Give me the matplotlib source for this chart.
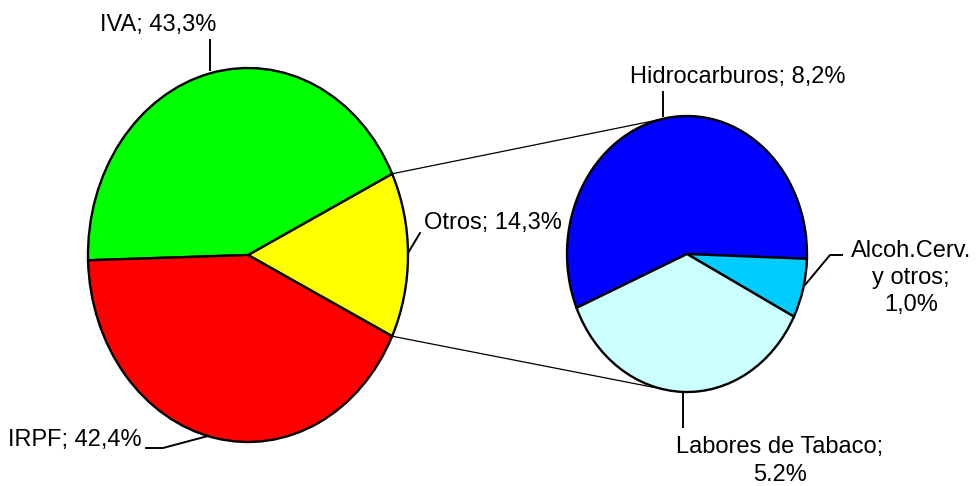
import matplotlib
matplotlib.use("Agg")
import matplotlib.pyplot as plt
from matplotlib import font_manager
import numpy as np

# Main breakdown of tax revenue
main_labels = ["Otros", "IVA", "IRPF"]
main_values = [14.3, 43.3, 42.4]
main_colors = ["#FFFF00", "#00FF00", "#FF0000"]

# Breakdown of "Otros"
sub_labels = ["Hidrocarburos", "Alcoh.Cerv. y otros", "Labores de Tabaco"]
sub_values = [8.2, 1.0, 5.2]
sub_colors = ["#0000FF", "#00CCFF", "#CCFFFF"]

available = {f.name for f in font_manager.fontManager.ttflist}
family = "Liberation Sans" if "Liberation Sans" in available else "DejaVu Sans"
plt.rcParams["font.family"] = [family, "DejaVu Sans"]
FS = 17

W, H = 977, 486
fig = plt.figure(figsize=(W / 100, H / 100), dpi=100)
fig.patch.set_facecolor("white")


def pie_axes(cx, cy, rx, ry):
    # axes whose data range (-1, 1) spans the ellipse bounding box (pixel coords)
    return fig.add_axes([(cx - rx) / W, (H - cy - ry) / H, 2 * rx / W, 2 * ry / H])


# Left pie
LCX, LCY, LRX, LRY = 248, 255, 160, 187
axL = pie_axes(LCX, LCY, LRX, LRY)
otros_angle = main_values[0] / sum(main_values) * 360
axL.pie(main_values, colors=main_colors, startangle=-otros_angle / 2,
        counterclock=True,
        wedgeprops=dict(edgecolor="black", linewidth=1.7))
axL.set_aspect("auto")
axL.set_xlim(-1, 1)
axL.set_ylim(-1, 1)
axL.axis("off")

# Right pie
RCX, RCY, RRX, RRY = 687, 254, 120, 138
axR = pie_axes(RCX, RCY, RRX, RRY)
axR.pie(sub_values, colors=sub_colors, startangle=203, counterclock=False,
        wedgeprops=dict(edgecolor="black", linewidth=1.7))
axR.set_aspect("auto")
axR.set_xlim(-1, 1)
axR.set_ylim(-1, 1)
axR.axis("off")

# Overlay in pixel coordinates for connectors and labels
ov = fig.add_axes([0, 0, 1, 1], zorder=5)
ov.set_xlim(0, W)
ov.set_ylim(H, 0)
ov.axis("off")
ov.patch.set_alpha(0)


def left_pt(deg):
    a = np.radians(deg)
    return LCX + LRX * np.cos(a), LCY - LRY * np.sin(a)


def right_pt(deg):
    a = np.radians(deg)
    return RCX + RRX * np.cos(a), RCY - RRY * np.sin(a)


# Connector lines from the "Otros" wedge to the second pie
half = otros_angle / 2
x1, y1 = left_pt(half)
x2, y2 = right_pt(103)
ov.plot([x1, x2], [y1, y2], color="black", lw=0.9)
x1, y1 = left_pt(-half)
x2, y2 = right_pt(-102)
ov.plot([x1, x2], [y1, y2], color="black", lw=0.9)

lk = dict(color="black", lw=1.4)

# IVA
ov.plot([210, 210], [40, 70], **lk)
ov.text(158, 25, "IVA; 43,3%", fontsize=FS, ha="center", va="center")

# Otros
ov.plot([408, 420], [253, 233], **lk)
ov.text(424, 223, "Otros; 14,3%", fontsize=FS, ha="left", va="center")

# IRPF
ov.plot([146, 163, 208], [448, 448, 436], **lk)
ov.text(142, 440, "IRPF; 42,4%", fontsize=FS, ha="right", va="center")

# Hidrocarburos
ov.plot([663, 663], [92, 116], **lk)
ov.text(738, 77, "Hidrocarburos; 8,2%", fontsize=FS, ha="center", va="center")

# Alcoh.Cerv. y otros
ov.plot([805, 830, 842], [285, 255, 255], **lk)
ov.text(911, 278, "Alcoh.Cerv.\ny otros;\n1,0%", fontsize=FS, ha="center",
        va="center", linespacing=1.32)

# Labores de Tabaco
ov.plot([683, 683], [393, 427], **lk)
ov.text(780, 461, "Labores de Tabaco;\n5.2%", fontsize=FS, ha="center",
        va="center", linespacing=1.3)

fig.savefig("out.png", dpi=100)
